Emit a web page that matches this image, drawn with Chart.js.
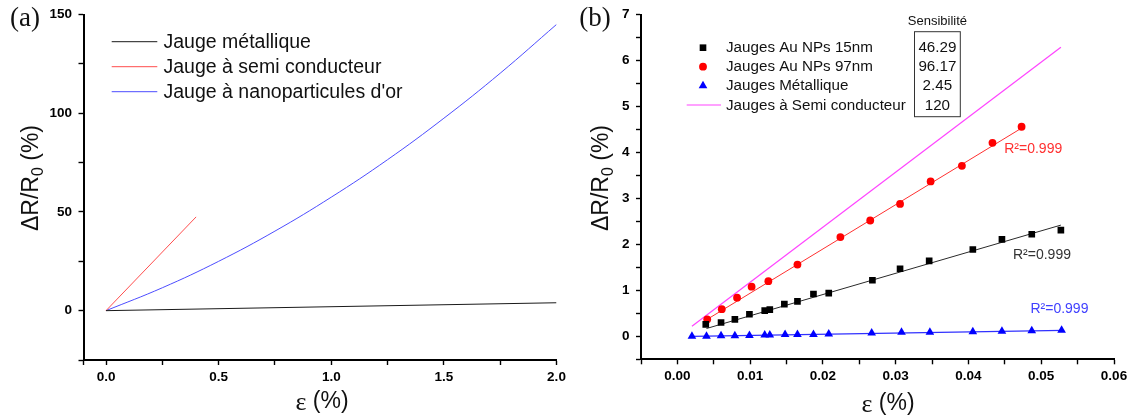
<!DOCTYPE html>
<html><head><meta charset="utf-8">
<script src="https://cdn.jsdelivr.net/npm/chart.js@4.4.1/dist/chart.umd.min.js"></script>
<style>
html,body{margin:0;padding:0;background:#fff;}
#wrap{position:relative;width:1132px;height:416px;overflow:hidden;background:#fff;}
canvas{position:absolute;top:0;}
#ca{left:0;} #cb{left:570px;}
</style></head><body>
<div id="wrap"><canvas id="ca" width="570" height="416"></canvas><canvas id="cb" width="562" height="416"></canvas></div>
<script>
// ---------- Panel (a) data ----------
const seriesNamesA = ['Jauge métallique', 'Jauge à semi conducteur', "Jauge à nanoparticules d'or"];
const metalA_x = [0, 2.0];
const metalA_y = [0, 4.0];
const semiA_x = [0, 0.4];
const semiA_y = [0, 47.5];
const goldA_x = [0, 0.25, 0.5, 0.75, 1.0, 1.25, 1.5, 1.75, 2.0];
const goldA_y = [0, 11.6, 25, 40.3, 57.5, 76.5, 97.5, 120.3, 145];
const xTicksA = [-0.1, 0, 0.25, 0.5, 0.75, 1.0, 1.25, 1.5, 1.75, 2.0];
const xTickLabelsA = ['', '0.0', '', '0.5', '', '1.0', '', '1.5', '', '2.0'];
const yTicksA = [-25, 0, 25, 50, 75, 100, 125, 150];
const yTickLabelsA = ['', '0', '', '50', '', '100', '', '150'];

// ---------- Panel (b) data ----------
const seriesNamesB = ['Jauges Au NPs 15nm', 'Jauges Au NPs 97nm', 'Jauges Métallique', 'Jauges à Semi conducteur'];
const sensitivities = ['46.29', '96.17', '2.45', '120'];
const strain15 = [0.0039, 0.0060, 0.0079, 0.0099, 0.0120, 0.0127, 0.0147, 0.0165, 0.0187, 0.0208, 0.0268, 0.0306, 0.0346, 0.0406, 0.0446, 0.0487, 0.0527];
const dr15 = [0.26, 0.30, 0.37, 0.48, 0.56, 0.58, 0.70, 0.76, 0.92, 0.94, 1.22, 1.47, 1.64, 1.89, 2.11, 2.22, 2.31];
const strain97 = [0.0041, 0.0061, 0.0082, 0.0102, 0.0125, 0.0165, 0.0224, 0.0265, 0.0306, 0.0348, 0.0391, 0.0433, 0.0473];
const dr97 = [0.37, 0.59, 0.84, 1.08, 1.20, 1.56, 2.16, 2.52, 2.88, 3.37, 3.71, 4.21, 4.56];
const strainMet = [0.0020, 0.0040, 0.0060, 0.0079, 0.0099, 0.0120, 0.0127, 0.0148, 0.0165, 0.0187, 0.0208, 0.0267, 0.0308, 0.0347, 0.0406, 0.0446, 0.0487, 0.0528];
const drMet = [0.00, 0.00, 0.01, 0.01, 0.02, 0.03, 0.03, 0.04, 0.04, 0.04, 0.05, 0.07, 0.09, 0.09, 0.10, 0.11, 0.12, 0.13];
const fit15_x = [0.0040, 0.0527];
const fit15_y = [0.17, 2.42];
const fit97_x = [0.0040, 0.0473];
const fit97_y = [0.36, 4.53];
const fitMet_x = [0.0020, 0.0530];
const fitMet_y = [0.00, 0.13];
const semiB_x = [0.0020, 0.0527];
const semiB_y = [0.22, 6.29];
const r2Texts = ['R²=0.999', 'R²=0.999', 'R²=0.999'];
const xTicksB = [-0.005, 0, 0.005, 0.01, 0.015, 0.02, 0.025, 0.03, 0.035, 0.04, 0.045, 0.05, 0.055, 0.06];
const xTickLabelsB = ['', '0.00', '', '0.01', '', '0.02', '', '0.03', '', '0.04', '', '0.05', '', '0.06'];
const yTicksB = [-0.5, 0, 0.5, 1, 1.5, 2, 2.5, 3, 3.5, 4, 4.5, 5, 5.5, 6, 6.5, 7];
const yTickLabelsB = ['', '0', '', '1', '', '2', '', '3', '', '4', '', '5', '', '6', '', '7'];

const pts = (xs, ys) => xs.map((x, i) => ({x: x, y: ys[i]}));

const SANS = "'Liberation Sans', Arial, Helvetica, sans-serif";
const SERIF = "'Liberation Serif', 'Times New Roman', serif";
const tickFont = {family: SANS, size: 13.5, weight: 'bold'};

function drawMarker(ctx, style, x, y, r, color) {
  ctx.fillStyle = color;
  ctx.beginPath();
  if (style === 'rect') {
    const s = Math.SQRT1_2 * r;
    ctx.rect(x - s, y - s, 2 * s, 2 * s);
  } else if (style === 'triangle') {
    let a = 0;
    ctx.moveTo(x + Math.sin(a) * r, y - Math.cos(a) * r);
    a += 2 * Math.PI / 3;
    ctx.lineTo(x + Math.sin(a) * r, y - Math.cos(a) * r);
    a += 2 * Math.PI / 3;
    ctx.lineTo(x + Math.sin(a) * r, y - Math.cos(a) * r);
    ctx.closePath();
  } else {
    ctx.arc(x, y, r, 0, Math.PI * 2);
  }
  ctx.fill();
}

const extras = {
  id: 'extras',
  afterDraw(chart, args, o) {
    const ctx = chart.ctx;
    ctx.save();
    // panel label
    ctx.fillStyle = '#111';
    ctx.textAlign = 'center';
    ctx.textBaseline = 'middle';
    ctx.font = o.panel.size + 'px ' + SERIF;
    ctx.fillText(o.panel.text, o.panel.x, o.panel.y);

    // y title with subscript
    ctx.save();
    ctx.translate(o.yTitle.x, o.yTitle.y);
    ctx.rotate(-Math.PI / 2);
    ctx.fillStyle = '#111';
    ctx.textAlign = 'left';
    ctx.textBaseline = 'middle';
    const fMain = o.yTitle.size + 'px ' + SANS;
    const fSub = Math.round(o.yTitle.size * 0.68) + 'px ' + SANS;
    ctx.font = fMain; const w1 = ctx.measureText('ΔR/R').width; const w3 = ctx.measureText(' (%)').width;
    ctx.font = fSub; const w2 = ctx.measureText('0').width;
    let sx = -(w1 + w2 + w3) / 2;
    ctx.font = fMain; ctx.fillText('ΔR/R', sx, 0);
    ctx.font = fSub; ctx.fillText('0', sx + w1, o.yTitle.size * 0.3);
    ctx.font = fMain; ctx.fillText(' (%)', sx + w1 + w2, 0);
    ctx.restore();

    // x title
    ctx.fillStyle = '#111';
    ctx.textBaseline = 'middle';
    ctx.textAlign = 'left';
    const fEps = (o.xTitle.size + 3) + 'px ' + SERIF;
    const fPct = o.xTitle.size + 'px ' + SANS;
    ctx.font = fEps; const we = ctx.measureText('ε').width;
    ctx.font = fPct; const wp = ctx.measureText(' (%)').width;
    let ex = o.xTitle.x - (we + wp) / 2;
    ctx.font = fEps; ctx.fillText('ε', ex, o.xTitle.y + 1);
    ctx.font = fPct; ctx.fillText(' (%)', ex + we, o.xTitle.y);

    // legend
    const L = o.legend;
    ctx.font = L.size + 'px ' + SANS;
    ctx.textAlign = 'left';
    ctx.textBaseline = 'middle';
    L.items.forEach((dsIndex, k) => {
      const ds = chart.data.datasets[dsIndex];
      const y = L.rows[k];
      if (ds.showLine === false) {
        drawMarker(ctx, ds.pointStyle, L.markerX, y, ds.pointRadius, ds.backgroundColor);
      } else {
        ctx.strokeStyle = ds.borderColor;
        ctx.lineWidth = ds.borderWidth;
        ctx.beginPath();
        ctx.moveTo(L.lineX1, y);
        ctx.lineTo(L.lineX2, y);
        ctx.stroke();
      }
      ctx.fillStyle = '#111';
      ctx.fillText(ds.label, L.textX, y + 0.5);
    });

    // table of sensitivities
    if (o.table) {
      const T = o.table;
      ctx.strokeStyle = '#333';
      ctx.lineWidth = 1;
      ctx.strokeRect(T.x, T.y, T.w, T.h);
      ctx.fillStyle = '#111';
      ctx.textAlign = 'center';
      ctx.font = T.headSize + 'px ' + SANS;
      ctx.fillText(T.head, T.x + T.w / 2, T.headY);
      ctx.font = L.size + 'px ' + SANS;
      T.values.forEach((v, k) => ctx.fillText(v, T.x + T.w / 2, L.rows[k] + 0.5));
    }

    // annotations (positioned in data coordinates)
    if (o.notes) {
      const xs = chart.scales.x, ys = chart.scales.y;
      ctx.textAlign = 'center';
      ctx.textBaseline = 'middle';
      o.notes.forEach(n => {
        ctx.font = n.size + 'px ' + SANS;
        ctx.fillStyle = n.color;
        ctx.fillText(n.text, xs.getPixelForValue(n.x), ys.getPixelForValue(n.y));
      });
    }
    ctx.restore();
  }
};

function axisCfg(min, max, ticks, labels, fitSize, horizontal) {
  return {
    type: 'linear', min: min, max: max,
    afterFit: s => { if (horizontal) s.height = fitSize; else s.width = fitSize; },
    afterBuildTicks: s => { s.ticks = ticks.map(v => ({value: v})); },
    ticks: {
      autoSkip: false, maxRotation: 0, minRotation: 0,
      padding: horizontal ? 4 : 6.5,
      color: '#000', font: tickFont,
      callback: (v, i) => labels[i]
    },
    grid: {display: true, drawOnChartArea: false, drawTicks: true, tickLength: 5, tickColor: '#000', tickWidth: 1.4},
    border: {display: true, color: '#000', width: 2}
  };
}

// ---------- Chart (a) ----------
new Chart(document.getElementById('ca'), {
  type: 'scatter',
  data: {
    datasets: [
      {label: seriesNamesA[0], data: pts(metalA_x, metalA_y), showLine: true, borderColor: '#1a1a1a', borderWidth: 1, pointRadius: 0, tension: 0},
      {label: seriesNamesA[1], data: pts(semiA_x, semiA_y), showLine: true, borderColor: '#ff4d4d', borderWidth: 1, pointRadius: 0, tension: 0},
      {label: seriesNamesA[2], data: pts(goldA_x, goldA_y), showLine: true, borderColor: '#4d4dff', borderWidth: 1, pointRadius: 0, tension: 0.4}
    ]
  },
  options: {
    responsive: false, animation: false, events: [],
    layout: {padding: {left: 0, top: 12.3, right: 13.5, bottom: 0}},
    plugins: {
      legend: {display: false}, tooltip: {enabled: false},
      extras: {
        panel: {text: '(a)', x: 25, y: 19, size: 27},
        yTitle: {x: 31.5, y: 178, size: 23},
        xTitle: {x: 322, y: 402, size: 23},
        legend: {items: [0, 1, 2], rows: [41.7, 66.7, 91.7], lineX1: 111.7, lineX2: 157.3, textX: 163.5, size: 19.5}
      }
    },
    scales: {
      x: axisCfg(-0.1, 2.0, xTicksA, xTickLabelsA, 56, true),
      y: axisCfg(-25, 150, yTicksA, yTickLabelsA, 83.5, false)
    }
  },
  plugins: [extras]
});

// ---------- Chart (b) ----------
new Chart(document.getElementById('cb'), {
  type: 'scatter',
  data: {
    datasets: [
      {label: seriesNamesB[0], data: pts(strain15, dr15), showLine: false, pointStyle: 'rect', pointRadius: 4.7, backgroundColor: '#000', borderWidth: 0},
      {label: seriesNamesB[1], data: pts(strain97, dr97), showLine: false, pointStyle: 'circle', pointRadius: 3.9, backgroundColor: '#ff0000', borderWidth: 0},
      {label: seriesNamesB[2], data: pts(strainMet, drMet), showLine: false, pointStyle: 'triangle', pointRadius: 5, backgroundColor: '#0000ff', borderWidth: 0},
      {label: seriesNamesB[3], data: pts(semiB_x, semiB_y), showLine: true, borderColor: '#ff44ff', borderWidth: 1.2, pointRadius: 0},
      {label: 'fit15', data: pts(fit15_x, fit15_y), showLine: true, borderColor: '#2a2a2a', borderWidth: 1, pointRadius: 0},
      {label: 'fit97', data: pts(fit97_x, fit97_y), showLine: true, borderColor: '#ff3030', borderWidth: 1, pointRadius: 0},
      {label: 'fitMet', data: pts(fitMet_x, fitMet_y), showLine: true, borderColor: '#3030ff', borderWidth: 1.2, pointRadius: 0}
    ]
  },
  options: {
    responsive: false, animation: false, events: [],
    layout: {padding: {left: 0, top: 12.3, right: 18, bottom: 0}},
    plugins: {
      legend: {display: false}, tooltip: {enabled: false},
      extras: {
        panel: {text: '(b)', x: 25, y: 19, size: 27},
        yTitle: {x: 31.5, y: 178, size: 23},
        xTitle: {x: 318, y: 404, size: 23},
        legend: {items: [0, 1, 2, 3], rows: [47.7, 66.7, 85.7, 105], markerX: 133, lineX1: 116.7, lineX2: 151, textX: 156, size: 15.2},
        table: {x: 344.5, y: 31.7, w: 45.8, h: 85, head: 'Sensibilité', headY: 21, headSize: 13, values: sensitivities},
        notes: [
          {text: r2Texts[0], x: 0.0489, y: 4.08, color: '#ff3030', size: 14},
          {text: r2Texts[1], x: 0.0501, y: 1.77, color: '#333333', size: 14},
          {text: r2Texts[2], x: 0.0525, y: 0.60, color: '#4040ff', size: 14}
        ]
      }
    },
    scales: {
      x: axisCfg(-0.005, 0.06, xTicksB, xTickLabelsB, 56.7, true),
      y: axisCfg(-0.5, 7, yTicksB, yTickLabelsB, 71, false)
    }
  },
  plugins: [extras]
});
</script>
</body></html>
